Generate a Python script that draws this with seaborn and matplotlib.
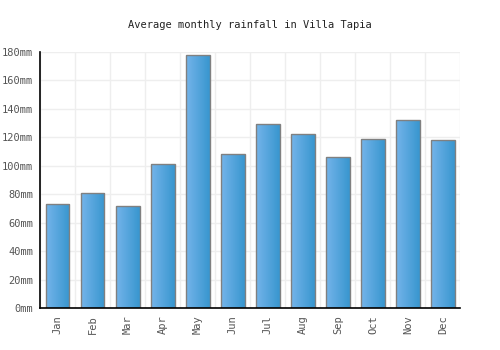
import matplotlib
matplotlib.use("Agg")
import matplotlib.pyplot as plt
import seaborn as sns
import numpy as np
import pandas as pd
from matplotlib.colors import LinearSegmentedColormap

months = ["Jan", "Feb", "Mar", "Apr", "May", "Jun", "Jul", "Aug", "Sep", "Oct", "Nov", "Dec"]
rainfall = [73, 81, 72, 101, 178, 108, 129, 122, 106, 119, 132, 118]
yticks = [0, 20, 40, 60, 80, 100, 120, 140, 160, 180]

sns.set_style("white")
plt.rcParams['font.family'] = ['DejaVu Sans Mono', 'DejaVu Sans']

df = pd.DataFrame({"month": months, "rain": rainfall})

fig = plt.figure(figsize=(5, 3.5), dpi=100)
ax = fig.add_axes([0.08, 0.119, 0.841, 0.733])

sns.barplot(data=df, x="month", y="rain", ax=ax, width=0.68,
            color="#4fa3dc", edgecolor="#808080", linewidth=1.0, zorder=3)

cmap = LinearSegmentedColormap.from_list("g", ["#74b4ea", "#3896cf"])
grad = np.linspace(0, 1, 64).reshape(1, -1)
for p in ax.patches:
    x0, y0 = p.get_x(), p.get_y()
    w, h = p.get_width(), p.get_height()
    im = ax.imshow(grad, cmap=cmap, aspect="auto", extent=[x0, x0 + w, y0, y0 + h],
                   zorder=3.5, interpolation="bilinear")
    im.set_clip_path(p)
    p.set_facecolor("none")
    p.set_zorder(4)

ax.set_xlim(-0.5, 11.5)
ax.set_ylim(0, 180)
ax.set_yticks(yticks)
ax.set_yticklabels([f"{v}mm" for v in yticks])
ax.set_xticks(range(12))
ax.set_xticklabels(months, rotation=90)
ax.set_xticks(np.arange(-0.5, 12, 1), minor=True)
ax.grid(False)
ax.grid(True, which="major", axis="y", color="#eeeeee", linewidth=1, zorder=0)
ax.grid(True, which="minor", axis="x", color="#eeeeee", linewidth=1, zorder=0)
ax.tick_params(axis="both", which="both", length=0, labelsize=7.5, colors="#555555", pad=5)
ax.set_xlabel("")
ax.set_ylabel("")
for s in ["top", "right"]:
    ax.spines[s].set_visible(False)
for s in ["left", "bottom"]:
    ax.spines[s].set_color("black")
    ax.spines[s].set_linewidth(1.2)
    ax.spines[s].set_zorder(5)

fig.text(0.5, 0.928, "Average monthly rainfall in Villa Tapia", ha="center", va="center",
         fontsize=7.5, color="#222222")

fig.savefig("out.png", dpi=100)
